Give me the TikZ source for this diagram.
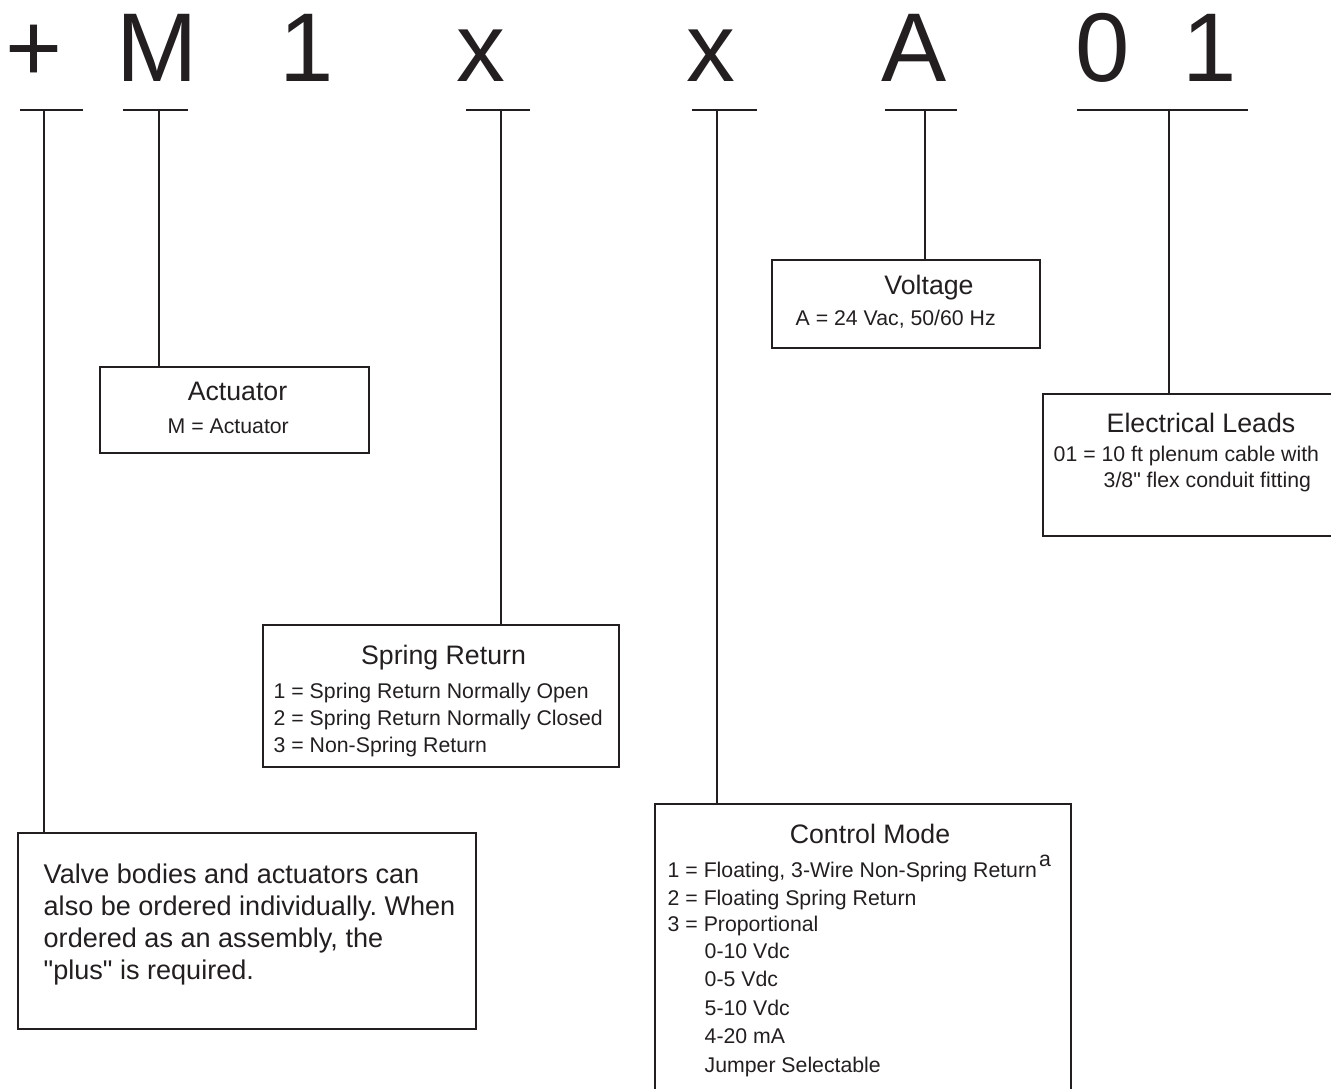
\documentclass[tikz,border=0pt]{standalone}
\usepackage{fontspec}
\newfontfamily\labelfont{Liberation Sans}
\usepackage{tikz}
\usetikzlibrary{positioning}
\definecolor{ink}{HTML}{231F20}
\frenchspacing

\tikzset{
  codechar/.style={font=\labelfont\fontsize{27.8}{30}\selectfont, anchor=base, inner sep=0pt},
  infobox/.style={draw, line width=0.6pt, rectangle, anchor=north west, inner sep=0pt},
  boxtitle/.style={font=\labelfont\fontsize{7.6}{9}\selectfont, anchor=base, inner sep=0pt},
  entry/.style={font=\labelfont\fontsize{6.05}{7}\selectfont, anchor=base west, inner sep=0pt},
  note/.style={font=\labelfont\fontsize{7.7}{9}\selectfont, anchor=base west, inner sep=0pt},
  underline/.style={line width=0.75pt},
  leader/.style={line width=0.45pt}
}

\begin{document}
\begin{tikzpicture}[color=ink]

                \path[use as bounding box] (0,0) rectangle (13.31,-10.89);
                \clip (0,0) rectangle (13.31,-10.89);

                % Code characters
                \node at (0.345,-0.82) (plus) [codechar] {+};
                \node at (1.575,-0.82) (act) [codechar] {M};
                \node at (3.065,-0.82) (one) [codechar] {1};
                \node at (4.81,-0.82) (spr) [codechar] {x};
                \node at (7.11,-0.82) (ctl) [codechar] {x};
                \node at (9.14,-0.82) (volt) [codechar] {A};
                \node at (11.025,-0.82) (leadsa) [codechar] {0};
                \node at (12.095,-0.82) (leadsb) [codechar] {1};

                % Underlines
                \coordinate (lplus) at (0.44,-1.10);
                \coordinate (lact) at (1.59,-1.10);
                \coordinate (lspr) at (5.01,-1.10);
                \coordinate (lctl) at (7.17,-1.10);
                \coordinate (lvolt) at (9.25,-1.10);
                \coordinate (lleads) at (11.69,-1.10);
                \draw[underline] (0.20,-1.10) -- (0.83,-1.10);
                \draw[underline] (1.23,-1.10) -- (1.88,-1.10);
                \draw[underline] (4.66,-1.10) -- (5.30,-1.10);
                \draw[underline] (6.92,-1.10) -- (7.57,-1.10);
                \draw[underline] (8.85,-1.10) -- (9.57,-1.10);
                \draw[underline] (10.77,-1.10) -- (12.48,-1.10);

                % Boxes
                \node at (0.99,-3.66) (actbox) [infobox, minimum width=2.69cm, minimum height=0.86cm] {};
                \node at (7.71,-2.59) (voltbox) [infobox, minimum width=2.68cm, minimum height=0.88cm] {};
                \node at (10.42,-3.93) (leadsbox) [infobox, minimum width=3.40cm, minimum height=1.42cm] {};
                \node at (2.62,-6.24) (sprbox) [infobox, minimum width=3.56cm, minimum height=1.42cm] {};
                \node at (0.17,-8.32) (plusbox) [infobox, minimum width=4.58cm, minimum height=1.96cm] {};
                \node at (6.54,-8.03) (ctlbox) [infobox, minimum width=4.16cm, minimum height=3.20cm] {};

                % Leaders
                \draw[leader] (lplus) -- (lplus |- plusbox.north);
                \draw[leader] (lact) -- (lact |- actbox.north);
                \draw[leader] (lspr) -- (lspr |- sprbox.north);
                \draw[leader] (lctl) -- (lctl |- ctlbox.north);
                \draw[leader] (lvolt) -- (lvolt |- voltbox.north);
                \draw[leader] (lleads) -- (lleads |- leadsbox.north);

                % Actuator
                \node at (2.375,-4.01) (acttitle) [boxtitle] {Actuator};
                \node at (1.67,-4.34) (actm) [entry] {M = Actuator};

                % Voltage
                \node at (9.29,-2.95) (volttitle) [boxtitle] {Voltage};
                \node at (7.95,-3.26) (volta) [entry] {A = 24 Vac, 50/60 Hz};

                % Electrical leads
                \node at (12.01,-4.33) (leadstitle) [boxtitle] {Electrical Leads};
                \node at (10.53,-4.62) (leadsone) [entry] {01 = 10 ft plenum cable with};
                \node at (11.03,-4.88) (leadstwo) [entry] {3/8" flex conduit fitting};

                % Spring return
                \node at (4.435,-6.65) (sprtitle) [boxtitle] {Spring Return};
                \foreach \txt [count=\i] in {1 = Spring Return Normally Open, 2 = Spring Return Normally Closed, 3 = Non-Spring Return}
                  \node at (2.73,{-6.99-0.265*(\i-1)}) (spr\i) [entry] {\txt};

                % Plus note
                \foreach \txt [count=\i] in {Valve bodies and actuators can, also be ordered individually. When, {ordered as an assembly, the}, "plus" is required.}
                  \node at (0.43,{-8.83-0.32*(\i-1)}) (plus\i) [note] {\txt};

                % Control mode
                \node at (8.70,-8.43) (ctltitle) [boxtitle] {Control Mode};
                \node at (6.67,-8.77) (ctla) [entry] {1 = Floating, 3-Wire Non-Spring Return\hspace{0.02cm}\raisebox{0.11cm}{a}};
                \node at (6.67,-9.05) (ctlb) [entry] {2 = Floating Spring Return};
                \node at (6.67,-9.31) (ctlc) [entry] {3 = Proportional};
                \foreach \txt [count=\i] in {0-10 Vdc, 0-5 Vdc, 5-10 Vdc, 4-20 mA, Jumper Selectable}
                  \node at (7.04,{-9.58-0.285*(\i-1)}) (ctlp\i) [entry] {\txt};

\end{tikzpicture}
\end{document}
